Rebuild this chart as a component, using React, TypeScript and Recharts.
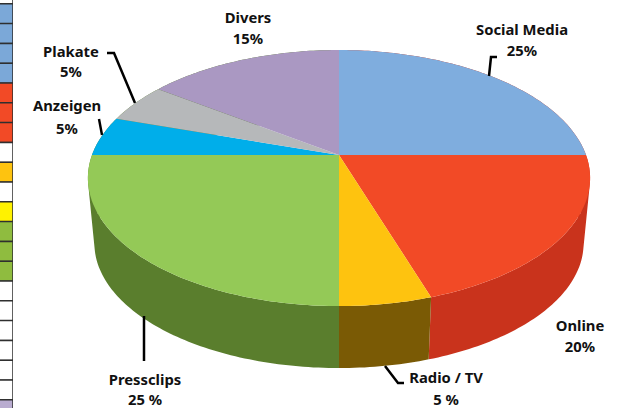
import { Bar, BarChart, Cell, Pie, PieChart, XAxis, YAxis } from 'recharts';

const categories = ['Social Media', 'Online', 'Radio / TV', 'Pressclips', 'Anzeigen', 'Plakate', 'Divers'];
const shares = [25, 20, 5, 25, 5, 5, 15];
const shareLabels = ['25%', '20%', '5 %', '25 %', '5%', '5%', '15%'];
const topColors = ['#7fadde', '#f24a26', '#fec30f', '#94c957', '#00aeea', '#b6b8ba', '#aa98c2'];
// back slices only ever peek out next to their front neighbour, so they share its wall colour
const wallColors = ['#c9331c', '#c9331c', '#7a5a05', '#5a7e2d', '#5a7e2d', '#5a7e2d', '#5a7e2d'];

// label anchors: centre x, baseline of both lines, leader polyline
const labelLayout = [
  { x: 522, y1: 35, y2: 56, leader: '489,76 491,57 497,57' },
  { x: 580, y1: 331, y2: 352, leader: '' },
  { x: 446, y1: 383, y2: 405, leader: '385,366 398,383 404,383' },
  { x: 145, y1: 385, y2: 405, leader: '144,316 144,361' },
  { x: 67, y1: 111, y2: 134, leader: '99,119 102,135' },
  { x: 71, y1: 57, y2: 77, leader: '107,53 114,53 135,103' },
  { x: 248, y1: 23, y2: 44, leader: '' },
];

// the clipped table on the left edge of the page
const stripColors = [
  '#ffffff', '#7ba8d8', '#7ba8d8', '#7ba8d8', '#7ba8d8', '#f24a26', '#f24a26', '#f24a26',
  '#ffffff', '#fec30f', '#ffffff', '#fff200', '#8fbc3f', '#8fbc3f', '#8fbc3f',
  '#ffffff', '#ffffff', '#ffffff', '#ffffff', '#ffffff', '#ffffff', '#b9acd0',
];
const stripRows = stripColors.map((_, i) => ({ row: i, value: 1 }));

const pieData = categories.map((name, i) => ({ name, value: shares[i] }));

// perspective tilt of the disc
const TILT = 0.18;
const SQUASH = 0.5016;
const WALL_SCALE = 0.974;
const ELLIPSE_CY = 178;
const WALL_CY = 243.3;

const RAD = Math.PI / 180;

const rim = (cx: number, cy: number, r: number, deg: number) => {
  const c = Math.cos(deg * RAD);
  const s = Math.sin(deg * RAD);
  const d = 1 + TILT * s;
  return [cx + (r * c) / d, cy - (r * SQUASH * s) / d];
};

const lowerRim = (cx: number, cy: number, r: number, deg: number) => {
  const [x, y] = rim(cx, cy, r, deg);
  return [cx + (x - cx) * WALL_SCALE, WALL_CY + (y - ELLIPSE_CY) * WALL_SCALE];
};

const steps = (from: number, to: number) => {
  const n = Math.max(1, Math.ceil(Math.abs(to - from)));
  return Array.from({ length: n + 1 }, (_, i) => from + ((to - from) * i) / n);
};

const TopShape = (props: any) => {
  const { cx, cy, outerRadius, startAngle, endAngle, index } = props;
  const pts = steps(startAngle, endAngle).map((a) => rim(cx, cy, outerRadius, a).join(','));
  return <path d={`M${cx},${cy}L${pts.join('L')}Z`} fill={topColors[index]} stroke="none" />;
};

// one path per slice, quads all wound the same way so the fold at the silhouette stays filled
const WallShape = (props: any) => {
  const { cx, cy, outerRadius, startAngle, endAngle, index } = props;
  const angles = steps(startAngle, endAngle);
  const d = angles
    .slice(1)
    .map((a, i) => {
      const b = angles[i];
      const quad = [
        rim(cx, cy, outerRadius, b),
        rim(cx, cy, outerRadius, a),
        lowerRim(cx, cy, outerRadius, a),
        lowerRim(cx, cy, outerRadius, b),
      ];
      const area = quad.reduce((sum, p, j) => {
        const q = quad[(j + 1) % 4];
        return sum + p[0] * q[1] - q[0] * p[1];
      }, 0);
      const ordered = area < 0 ? [...quad].reverse() : quad;
      return `M${ordered.map((p) => p.join(',')).join('L')}Z`;
    })
    .join('');
  return <path d={d} fill={wallColors[index]} stroke="none" />;
};

const renderLabel = ({ index }: any) => {
  const l = labelLayout[index];
  const textStyle = { fontFamily: 'Noto Sans', fontWeight: 700, fontSize: 14.8, fill: '#111111' };
  return (
    <g key={categories[index]}>
      {l.leader && <polyline points={l.leader} fill="none" stroke="#000000" strokeWidth={2.5} />}
      <text x={l.x} y={l.y1} textAnchor="middle" style={textStyle}>{categories[index]}</text>
      <text x={l.x} y={l.y2} textAnchor="middle" style={textStyle}>{shareLabels[index]}</text>
    </g>
  );
};

const App = () => (
  <div style={{ position: 'absolute', left: 0, top: 0, width: 633, height: 408, overflow: 'hidden', background: '#ffffff' }}>
    <div style={{ position: 'absolute', left: -3, top: -15.8 }}>
      <BarChart width={16} height={435.6} data={stripRows} layout="vertical" margin={{ top: 0, right: 0, bottom: 0, left: 0 }} barCategoryGap={0}>
        <XAxis type="number" domain={[0, 1]} hide />
        <YAxis type="category" dataKey="row" hide />
        <Bar dataKey="value" isAnimationActive={false} stroke="#2f2f2f" strokeWidth={1.5}>
          {stripColors.map((c, i) => (
            <Cell key={i} fill={c} />
          ))}
        </Bar>
      </BarChart>
    </div>
    <div style={{ position: 'absolute', left: 0, top: 0 }}>
      <PieChart width={633} height={408} margin={{ top: 0, right: 0, bottom: 0, left: 0 }}>
        <Pie
          data={pieData}
          dataKey="value"
          cx={339}
          cy={155}
          outerRadius={247}
          startAngle={90}
          endAngle={-270}
          stroke="none"
          shape={WallShape}
          isAnimationActive={false}
        />
        <Pie
          data={pieData}
          dataKey="value"
          cx={339}
          cy={155}
          outerRadius={247}
          startAngle={90}
          endAngle={-270}
          stroke="none"
          shape={TopShape}
          label={renderLabel}
          labelLine={false}
          isAnimationActive={false}
        />
      </PieChart>
    </div>
  </div>
);

export default App;
